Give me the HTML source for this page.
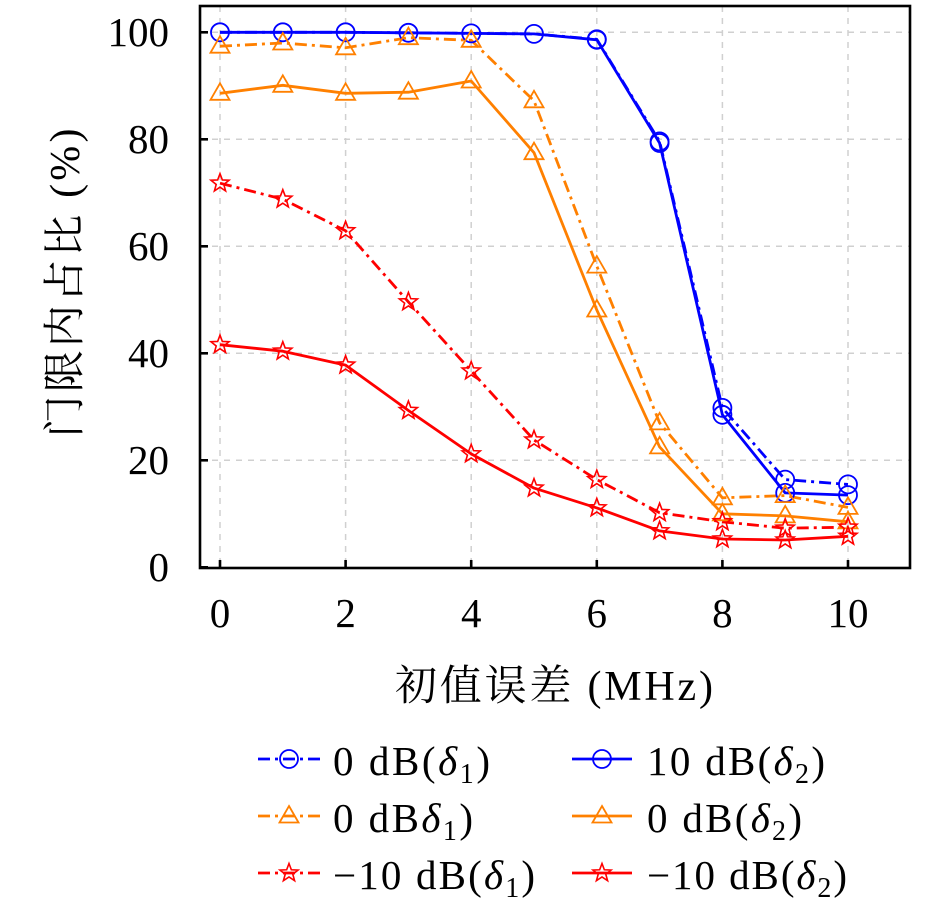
<!DOCTYPE html>
<html><head><meta charset="utf-8"><style>
html,body{margin:0;padding:0;background:#fff;}
svg{display:block;}
</style></head><body>
<svg width="945" height="906" viewBox="0 0 945 906" xmlns="http://www.w3.org/2000/svg">
<defs>
<circle id="mc" cx="0" cy="0" r="9" fill="none" stroke="#0000ff" stroke-width="1.8"/>
<polygon id="mt" points="0,-10 9.5,6.5 -9.5,6.5" fill="none" stroke="#ff8000" stroke-width="1.8"/>
<polygon id="ms" points="0,-9.5 2.35,-3.24 9.04,-2.94 3.8,1.24 5.58,7.69 0,4 -5.58,7.69 -3.8,1.24 -9.04,-2.94 -2.35,-3.24" fill="none" stroke="#ff0000" stroke-width="1.6"/>
</defs>
<g stroke="#d0d0d0" stroke-width="1.5" stroke-dasharray="6,6">
<line x1="220" y1="6" x2="220" y2="568"/>
<line x1="345.6" y1="6" x2="345.6" y2="568"/>
<line x1="471.2" y1="6" x2="471.2" y2="568"/>
<line x1="596.8" y1="6" x2="596.8" y2="568"/>
<line x1="722.4" y1="6" x2="722.4" y2="568"/>
<line x1="848" y1="6" x2="848" y2="568"/>
<line x1="200" y1="32.3" x2="910" y2="32.3"/>
<line x1="200" y1="139.3" x2="910" y2="139.3"/>
<line x1="200" y1="246.3" x2="910" y2="246.3"/>
<line x1="200" y1="353.3" x2="910" y2="353.3"/>
<line x1="200" y1="460.3" x2="910" y2="460.3"/>
</g>
<g fill="none" stroke-width="2.8" stroke-linejoin="round">
<polyline stroke="#0000ff" stroke-dasharray="12,5,3,5" points="220,32.3 282.8,32.3 345.6,32.3 408.4,32.8 471.2,33.4 534,33.9 596.8,39.3 659.6,141.4 722.4,407.9 785.2,479.6 848,484.4"/>
<polyline stroke="#ff8000" stroke-dasharray="12,5,3,5" points="220,46.2 282.8,43 345.6,47.8 408.4,37.7 471.2,40.3 534,100.8 596.8,266.1 659.6,422.9 722.4,497.8 785.2,495.6 848,507.4"/>
<polyline stroke="#ff0000" stroke-dasharray="12,5,3,5" points="220,183.2 282.8,199.2 345.6,230.8 408.4,301.9 471.2,371 534,440 596.8,479.6 659.6,512.7 722.4,521.8 785.2,528.2 848,527.2"/>
<polyline stroke="#0000ff" points="220,32.3 282.8,32.3 345.6,32.3 408.4,32.8 471.2,33.4 534,33.9 596.8,39.8 659.6,143 722.4,414.8 785.2,492.9 848,495.1"/>
<polyline stroke="#ff8000" points="220,93.3 282.8,85.3 345.6,93.3 408.4,92.2 471.2,81 534,152.7 596.8,310 659.6,446.9 722.4,513.8 785.2,515.9 848,521.8"/>
<polyline stroke="#ff0000" points="220,344.7 282.8,351.2 345.6,365.1 408.4,410.5 471.2,453.9 534,488.1 596.8,507.9 659.6,530.9 722.4,539 785.2,540 848,536.3"/>
</g>
<g>
<use href="#mc" x="220" y="32.3"/><use href="#mc" x="282.8" y="32.3"/><use href="#mc" x="345.6" y="32.3"/><use href="#mc" x="408.4" y="32.8"/><use href="#mc" x="471.2" y="33.4"/><use href="#mc" x="534" y="33.9"/><use href="#mc" x="596.8" y="39.3"/><use href="#mc" x="659.6" y="141.4"/><use href="#mc" x="722.4" y="407.9"/><use href="#mc" x="785.2" y="479.6"/><use href="#mc" x="848" y="484.4"/>
<use href="#mc" x="596.8" y="39.8"/><use href="#mc" x="659.6" y="143"/><use href="#mc" x="722.4" y="414.8"/><use href="#mc" x="785.2" y="492.9"/><use href="#mc" x="848" y="495.1"/>
<use href="#mt" x="220" y="46.2"/><use href="#mt" x="282.8" y="43"/><use href="#mt" x="345.6" y="47.8"/><use href="#mt" x="408.4" y="37.7"/><use href="#mt" x="471.2" y="40.3"/><use href="#mt" x="534" y="100.8"/><use href="#mt" x="596.8" y="266.1"/><use href="#mt" x="659.6" y="422.9"/><use href="#mt" x="722.4" y="497.8"/><use href="#mt" x="785.2" y="495.6"/><use href="#mt" x="848" y="507.4"/>
<use href="#mt" x="220" y="93.3"/><use href="#mt" x="282.8" y="85.3"/><use href="#mt" x="345.6" y="93.3"/><use href="#mt" x="408.4" y="92.2"/><use href="#mt" x="471.2" y="81"/><use href="#mt" x="534" y="152.7"/><use href="#mt" x="596.8" y="310"/><use href="#mt" x="659.6" y="446.9"/><use href="#mt" x="722.4" y="513.8"/><use href="#mt" x="785.2" y="515.9"/><use href="#mt" x="848" y="521.8"/>
<use href="#ms" x="220" y="183.2"/><use href="#ms" x="282.8" y="199.2"/><use href="#ms" x="345.6" y="230.8"/><use href="#ms" x="408.4" y="301.9"/><use href="#ms" x="471.2" y="371"/><use href="#ms" x="534" y="440"/><use href="#ms" x="596.8" y="479.6"/><use href="#ms" x="659.6" y="512.7"/><use href="#ms" x="722.4" y="521.8"/><use href="#ms" x="785.2" y="528.2"/><use href="#ms" x="848" y="527.2"/>
<use href="#ms" x="220" y="344.7"/><use href="#ms" x="282.8" y="351.2"/><use href="#ms" x="345.6" y="365.1"/><use href="#ms" x="408.4" y="410.5"/><use href="#ms" x="471.2" y="453.9"/><use href="#ms" x="534" y="488.1"/><use href="#ms" x="596.8" y="507.9"/><use href="#ms" x="659.6" y="530.9"/><use href="#ms" x="722.4" y="539"/><use href="#ms" x="785.2" y="540"/><use href="#ms" x="848" y="536.3"/>
</g>
<rect x="200" y="6" width="710" height="562" fill="none" stroke="#000" stroke-width="2.6"/>
<g stroke="#000" stroke-width="2.6">
<line x1="200" y1="32.3" x2="208" y2="32.3"/><line x1="200" y1="139.3" x2="208" y2="139.3"/><line x1="200" y1="246.3" x2="208" y2="246.3"/><line x1="200" y1="353.3" x2="208" y2="353.3"/><line x1="200" y1="460.3" x2="208" y2="460.3"/><line x1="200" y1="567.3" x2="208" y2="567.3"/>
<line x1="220" y1="568" x2="220" y2="560"/><line x1="345.6" y1="568" x2="345.6" y2="560"/><line x1="471.2" y1="568" x2="471.2" y2="560"/><line x1="596.8" y1="568" x2="596.8" y2="560"/><line x1="722.4" y1="568" x2="722.4" y2="560"/><line x1="848" y1="568" x2="848" y2="560"/>
</g>
<g font-family="'Liberation Serif', serif" font-size="41" fill="#000">
<g text-anchor="end">
<text x="169" y="46">100</text><text x="169" y="153">80</text><text x="169" y="260">60</text><text x="169" y="367">40</text><text x="169" y="474">20</text><text x="169" y="581">0</text>
</g>
<g text-anchor="middle">
<text x="220" y="627">0</text><text x="345.6" y="627">2</text><text x="471.2" y="627">4</text><text x="596.8" y="627">6</text><text x="722.4" y="627">8</text><text x="848" y="627">10</text>
</g>
<text x="395" y="700" font-size="42" font-family="'Liberation Serif','Noto Serif CJK SC',serif" textLength="318" lengthAdjust="spacing">初值误差 (MHz)</text>
<text transform="translate(79,283) rotate(-90)" text-anchor="middle" font-size="42" font-family="'Liberation Serif','Noto Serif CJK SC',serif" textLength="309" lengthAdjust="spacing">门限内占比 (%)</text>
</g>
<!-- legend -->
<g fill="none" stroke-width="2.8">
<line x1="258" y1="759" x2="320" y2="759" stroke="#0000ff" stroke-dasharray="12,5,3,5"/>
<line x1="258" y1="816" x2="320" y2="816" stroke="#ff8000" stroke-dasharray="12,5,3,5"/>
<line x1="258" y1="873" x2="320" y2="873" stroke="#ff0000" stroke-dasharray="12,5,3,5"/>
<line x1="572" y1="759" x2="632" y2="759" stroke="#0000ff"/>
<line x1="572" y1="816" x2="632" y2="816" stroke="#ff8000"/>
<line x1="572" y1="873" x2="632" y2="873" stroke="#ff0000"/>
</g>
<use href="#mc" x="289" y="759"/><use href="#mt" x="289" y="816"/><use href="#ms" x="289" y="873"/>
<use href="#mc" x="602" y="759"/><use href="#mt" x="602" y="816"/><use href="#ms" x="602" y="873"/>
<g font-family="'Liberation Serif', serif" font-size="41" fill="#000">
<text x="333" y="775" textLength="157" lengthAdjust="spacing">0 dB(<tspan font-style="italic">δ</tspan><tspan font-size="28" dy="8">1</tspan><tspan dy="-8">)</tspan></text>
<text x="333" y="832" textLength="140" lengthAdjust="spacing">0 dB<tspan font-style="italic">δ</tspan><tspan font-size="28" dy="8">1</tspan><tspan dy="-8">)</tspan></text>
<text x="333" y="889" textLength="202" lengthAdjust="spacing">−10 dB(<tspan font-style="italic">δ</tspan><tspan font-size="28" dy="8">1</tspan><tspan dy="-8">)</tspan></text>
<text x="647" y="775" textLength="178" lengthAdjust="spacing">10 dB(<tspan font-style="italic">δ</tspan><tspan font-size="28" dy="8">2</tspan><tspan dy="-8">)</tspan></text>
<text x="647" y="832" textLength="155" lengthAdjust="spacing">0 dB(<tspan font-style="italic">δ</tspan><tspan font-size="28" dy="8">2</tspan><tspan dy="-8">)</tspan></text>
<text x="647" y="889" textLength="200" lengthAdjust="spacing">−10 dB(<tspan font-style="italic">δ</tspan><tspan font-size="28" dy="8">2</tspan><tspan dy="-8">)</tspan></text>
</g>
</svg>
</body></html>
